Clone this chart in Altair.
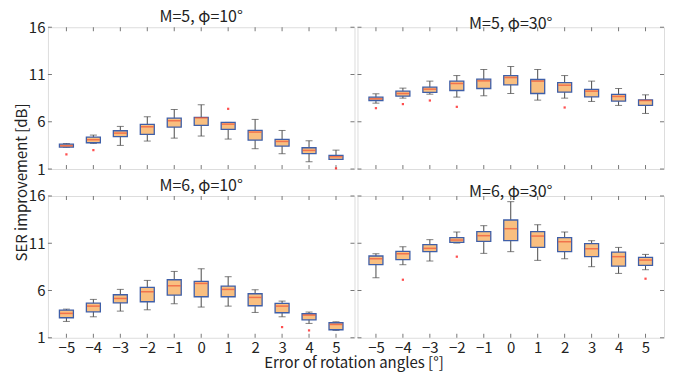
import altair as alt
import pandas as pd

FONT = "Noto Sans CJK JP"
X = [-5, -4, -3, -2, -1, 0, 1, 2, 3, 4, 5]
Y_TICKS = [1, 6, 11, 16]

# M=5, phi=10
a_lo  = [3.30, 3.71, 3.50, 3.96, 4.27, 4.49, 4.17, 3.15, 2.62, 1.77, 2.02]
a_q1  = [3.32, 3.78, 4.42, 4.66, 5.44, 5.61, 5.19, 4.06, 3.43, 2.62, 2.02]
a_med = [3.46, 4.10, 4.80, 5.47, 6.11, 6.42, 5.75, 4.91, 3.92, 2.97, 2.30]
a_q3  = [3.64, 4.38, 5.05, 5.72, 6.39, 6.46, 5.93, 5.08, 4.13, 3.25, 2.44]
a_hi  = [3.70, 4.59, 5.51, 6.53, 7.30, 7.80, 5.93, 6.25, 5.08, 3.99, 3.00]
a_out_x = [-5, -4, 1, 5]
a_out_y = [2.55, 3.00, 7.37, 1.07]

# M=5, phi=30
b_lo  = [7.97, 8.50, 8.92, 8.61, 8.75, 8.99, 8.29, 8.50, 8.15, 7.73, 6.88]
b_q1  = [8.25, 8.71, 9.10, 9.31, 9.52, 9.91, 8.99, 9.13, 8.64, 8.18, 7.73]
b_med = [8.43, 8.99, 9.45, 10.05, 10.33, 10.68, 10.30, 9.87, 9.24, 8.68, 8.25]
b_q3  = [8.61, 9.24, 9.66, 10.30, 10.51, 10.89, 10.47, 10.15, 9.42, 8.89, 8.32]
b_hi  = [8.96, 9.56, 10.30, 10.89, 11.53, 11.85, 11.53, 10.89, 10.30, 9.52, 8.85]
b_out_x = [-5, -4, -3, -2, 2]
b_out_y = [7.44, 7.87, 8.25, 7.58, 7.51]

# M=6, phi=10
c_lo  = [2.73, 3.22, 3.82, 3.96, 4.60, 4.25, 4.35, 3.68, 3.22, 2.52, 1.78]
c_q1  = [3.12, 3.75, 4.70, 4.81, 5.52, 5.34, 5.34, 4.39, 3.65, 2.90, 1.85]
c_med = [3.58, 4.35, 5.16, 5.87, 6.50, 6.75, 6.12, 5.27, 4.35, 3.40, 2.41]
c_q3  = [3.93, 4.67, 5.55, 6.33, 7.14, 6.96, 6.47, 5.66, 4.63, 3.54, 2.59]
c_hi  = [4.03, 5.06, 6.12, 7.07, 8.02, 8.30, 7.46, 6.08, 4.88, 3.72, 2.69]
c_out_x = [3, 4]
c_out_y = [2.13, 1.78]

# M=6, phi=30
d_lo  = [7.35, 8.73, 9.12, 11.02, 9.93, 10.11, 9.19, 9.36, 8.52, 7.81, 8.20]
d_q1  = [8.73, 9.26, 10.11, 11.09, 11.20, 11.27, 10.56, 10.11, 9.58, 8.59, 8.66]
d_med = [9.36, 9.89, 10.46, 11.34, 11.80, 12.54, 11.76, 11.16, 10.42, 9.58, 9.22]
d_q3  = [9.65, 10.14, 10.85, 11.59, 12.22, 13.46, 12.22, 11.59, 10.95, 10.07, 9.51]
d_hi  = [9.89, 10.63, 11.38, 12.19, 12.86, 15.40, 12.96, 12.19, 11.27, 10.56, 9.82]
d_out_x = [-4, -2, 5]
d_out_y = [7.14, 9.58, 7.25]

W, H = 307, 142


def panel(lo, q1, med, q3, hi, ox, oy, title, show_x, show_y, x_title=False, y_title=False):
    df = pd.DataFrame(dict(x=X, lo=lo, q1=q1, med=med, q3=q3, hi=hi))
    odf = pd.DataFrame(dict(x=ox, y=oy))
    tdf = pd.DataFrame(dict(x=X))
    ydf = pd.DataFrame(dict(v=Y_TICKS))
    xs = alt.Scale(domain=[-5.5, 5.5], nice=False, zero=False)
    ys = alt.Scale(domain=[1, 16], nice=False, zero=False)

    if show_x:
        xargs = dict(values=X, ticks=False, domain=False, grid=False, labelPadding=3,
                     labelFontSize=15, labelFont=FONT, labelColor="#222")
        if x_title:
            xargs.update(title="Error of rotation angles [°]", titleX=306, titleY=25,
                         titleBaseline="middle", titleAlign="center", titleFontSize=15,
                         titleFont=FONT, titleFontWeight="normal", titleColor="#222")
        xaxis = alt.Axis(**xargs)
    else:
        xaxis = None
    if show_y:
        yargs = dict(values=Y_TICKS, ticks=False, domain=False, grid=False, labelPadding=3,
                     labelFontSize=15, labelFont=FONT, labelColor="#222")
        if y_title:
            yargs.update(title="SER improvement [dB]", titleX=-26, titleY=155, titleAngle=270,
                         titleBaseline="middle", titleAlign="center", titleFontSize=15,
                         titleFont=FONT, titleFontWeight="normal", titleColor="#222")
        yaxis = alt.Axis(**yargs)
    else:
        yaxis = None

    xt = "Error of rotation angles [°]" if x_title else None
    yt = "SER improvement [dB]" if y_title else None

    def xe(f):
        return alt.X(f"{f}:Q", scale=xs, axis=xaxis, title=xt)

    def ye(f):
        return alt.Y(f"{f}:Q", scale=ys, axis=yaxis, title=yt)

    base = alt.Chart(df)
    whisk = base.mark_rule(color="#4a4a4a", strokeWidth=1).encode(x=xe("x"), y=ye("lo"), y2="hi")
    cap_lo = base.mark_tick(orient="horizontal", size=7, thickness=1, color="#4a4a4a").encode(
        x=xe("x"), y=ye("lo"))
    cap_hi = base.mark_tick(orient="horizontal", size=7, thickness=1, color="#4a4a4a").encode(
        x=xe("x"), y=ye("hi"))
    box = base.mark_bar(size=14, fill="#F9BF80", stroke="#3F5FA8", strokeWidth=1.3).encode(
        x=xe("x"), y=ye("q1"), y2="q3")
    medl = base.mark_tick(orient="horizontal", size=13, thickness=1.5, color="#EE5236").encode(
        x=xe("x"), y=ye("med"))
    outs = alt.Chart(odf).mark_square(size=5, color="#FF3030", opacity=0.85).encode(
        x=xe("x"), y=ye("y"))
    tk = alt.Chart(tdf)
    tb = tk.mark_rule(color="#777", strokeWidth=1).encode(x=xe("x"), y=alt.value(H), y2=alt.value(H - 4))
    tt = tk.mark_rule(color="#777", strokeWidth=1).encode(x=xe("x"), y=alt.value(0), y2=alt.value(4))
    yk = alt.Chart(ydf)
    yl = yk.mark_rule(color="#777", strokeWidth=1).encode(y=ye("v"), x=alt.value(0), x2=alt.value(4))
    yr = yk.mark_rule(color="#777", strokeWidth=1).encode(y=ye("v"), x=alt.value(W - 4), x2=alt.value(W))

    return alt.layer(tb, tt, yl, yr, whisk, cap_lo, cap_hi, box, medl, outs).properties(
        width=W, height=H,
        title=alt.TitleParams(title, fontSize=16, fontWeight="normal", font=FONT,
                              color="#222", offset=-5, frame="group"))


p1 = panel(a_lo, a_q1, a_med, a_q3, a_hi, a_out_x, a_out_y, "M=5, φ=10°", False, True,
           y_title=True)
p2 = panel(b_lo, b_q1, b_med, b_q3, b_hi, b_out_x, b_out_y, "M=5, φ=30°", False, False)
p3 = panel(c_lo, c_q1, c_med, c_q3, c_hi, c_out_x, c_out_y, "M=6, φ=10°", True, True,
           x_title=True)
p4 = panel(d_lo, d_q1, d_med, d_q3, d_hi, d_out_x, d_out_y, "M=6, φ=30°", True, False)

chart = alt.concat(p1, p2, p3, p4, columns=2, spacing={"row": 27, "column": 3},
                   bounds="flush").properties(
    padding={"left": 6, "top": 0, "right": 0, "bottom": 0}
).configure_view(stroke="#8a8a8a", strokeWidth=1).configure(background="white")

chart.save("out.html", embed_options={"renderer": "svg", "actions": False})
